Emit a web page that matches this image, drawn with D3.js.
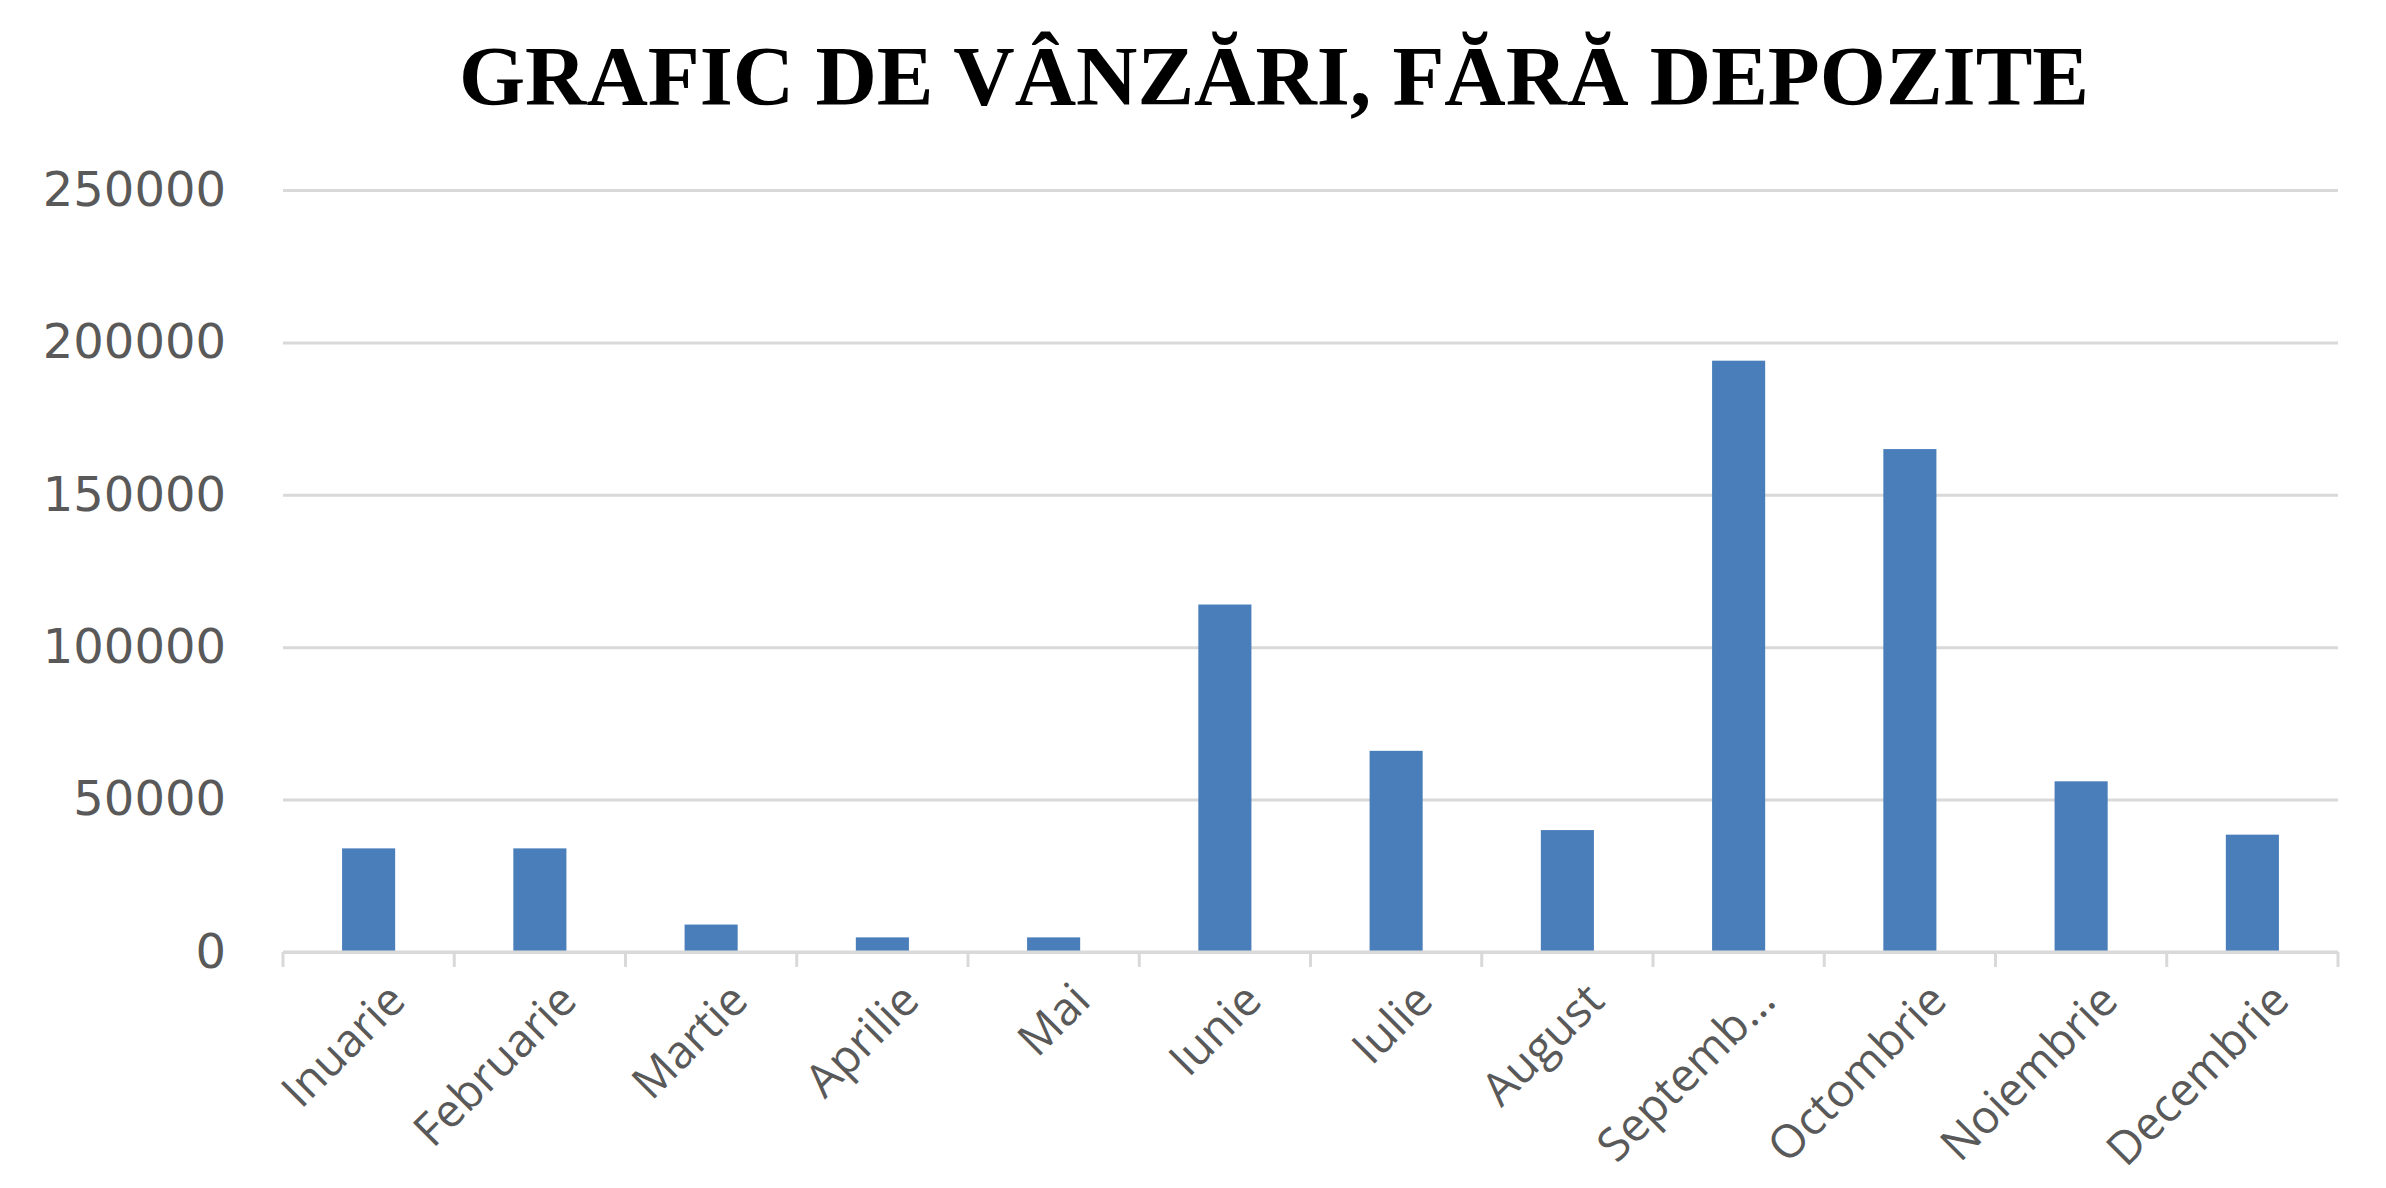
<!DOCTYPE html>
<html>
<head>
<meta charset="utf-8">
<script src="https://cdn.jsdelivr.net/npm/d3@7"></script>
<style>
  body { margin: 0; background: #fff; }
  svg { display: block; }
</style>
</head>
<body>
<div id="chart-area"></div>
<script>
/* DATA */
const months = ['Inuarie', 'Februarie', 'Martie', 'Aprilie', 'Mai', 'Iunie', 'Iulie', 'August', 'Septemb…', 'Octombrie', 'Noiembrie', 'Decembrie'];
const sales = [34000, 34000, 9000, 4800, 4800, 114000, 66000, 40000, 194000, 165000, 56000, 38500];
const yTicks = [0, 50000, 100000, 150000, 200000, 250000];
const title = 'GRAFIC DE VÂNZĂRI, FĂRĂ DEPOZITE';

/* CONSTANTS */
const W = 2386, H = 1188;
const margin = { left: 283, right: 48, top: 190, bottom: 236 };
const width = W - margin.left - margin.right;
const height = H - margin.top - margin.bottom;

const svg = d3.select('#chart-area')
  .append('svg')
  .attr('width', W)
  .attr('height', H);

svg.append('text')
  .attr('x', 1274)
  .attr('y', 105)
  .attr('text-anchor', 'middle')
  .attr('font-family', '"Liberation Serif", "Times New Roman", serif')
  .attr('font-weight', 'bold')
  .attr('font-size', 85)
  .attr('fill', '#000')
  .text(title);

const g = svg.append('g')
  .attr('transform', `translate(${margin.left}, ${margin.top})`);

// scales
const x = d3.scaleBand()
  .domain(months)
  .range([0, width])
  .paddingInner(0.69)
  .paddingOuter(0.345);
const y = d3.scaleLinear().domain([0, 250000]).range([height, 0]);

// y axis + gridlines
const yAxis = g.append('g')
  .call(d3.axisLeft(y).tickValues(yTicks).tickFormat(d3.format('d')).tickSize(-width).tickPadding(57));
yAxis.select('.domain').remove();
yAxis.selectAll('.tick line')
  .attr('stroke', '#d9d9d9')
  .attr('stroke-width', 3);
yAxis.selectAll('.tick text')
  .attr('font-family', '"DejaVu Sans", sans-serif')
  .attr('font-size', 48)
  .attr('fill', '#595959');

// bars
g.selectAll('rect.bar')
  .data(sales)
  .enter()
  .append('rect')
  .attr('class', 'bar')
  .attr('x', (d, i) => x(months[i]))
  .attr('width', x.bandwidth())
  .attr('y', (d) => y(d))
  .attr('height', (d) => y(0) - y(d))
  .attr('fill', '#4a7ebb');

// x axis line and boundary ticks
g.append('line')
  .attr('x1', 0).attr('x2', width)
  .attr('y1', y(0)).attr('y2', y(0))
  .attr('stroke', '#d9d9d9')
  .attr('stroke-width', 3);
const step = x.step();
const bounds = d3.range(months.length + 1).map((i) => i * step);
g.selectAll('line.xtick')
  .data(bounds)
  .enter()
  .append('line')
  .attr('class', 'xtick')
  .attr('x1', (d) => d).attr('x2', (d) => d)
  .attr('y1', y(0)).attr('y2', y(0) + 15)
  .attr('stroke', '#d9d9d9')
  .attr('stroke-width', 3);

// rotated month labels
g.selectAll('text.xlabel')
  .data(months)
  .enter()
  .append('text')
  .attr('class', 'xlabel')
  .attr('transform', (d) => `translate(${x(d) + x.bandwidth() / 2 + 16}, ${y(0) + 28}) rotate(-45)`)
  .attr('text-anchor', 'end')
  .attr('dy', '0.71em')
  .attr('font-family', '"Open Sans", sans-serif')
  .attr('font-size', 46)
  .attr('fill', '#595959')
  .text((d) => d);
</script>
</body>
</html>
